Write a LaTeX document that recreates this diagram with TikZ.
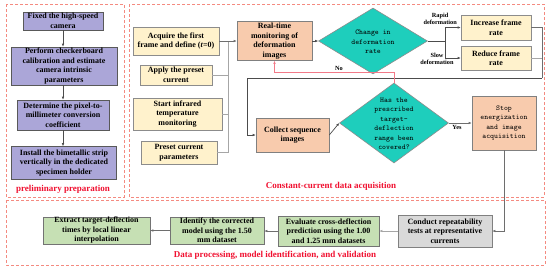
\documentclass[tikz,border=0pt]{standalone}
\usepackage{fontspec}
\setmainfont{Liberation Serif}
\usetikzlibrary{arrows.meta,shapes.geometric}
\definecolor{purp}{HTML}{ABA6D8}
\definecolor{yel}{HTML}{FFF2CC}
\definecolor{salm}{HTML}{F8CBAD}
\definecolor{teal2}{HTML}{1ECEBC}
\definecolor{grn}{HTML}{C6E0B4}
\definecolor{gry}{HTML}{D9D9D9}
\definecolor{dashred}{HTML}{F48A80}
\definecolor{lblred}{HTML}{F01030}
\definecolor{linegray}{HTML}{6E6E6E}
\definecolor{nopink}{HTML}{F27A88}
\tikzset{
  box/.style={draw=#1, line width=0.6pt, rectangle, inner sep=0pt, align=center,
    font=\fontsize{8}{9.5}\selectfont\bfseries},
  pbox/.style={box=black!65, fill=purp},
  ybox/.style={box=black!45, fill=yel},
  sbox/.style={box=black!50, fill=salm},
  gbox/.style={box=black!55, fill=grn},
  graybox/.style={box=black!50, fill=gry},
  mono/.style={font=\fontsize{7.4}{9.5}\selectfont\ttfamily, align=center, inner sep=0pt},
  dia/.style={draw=black!45, line width=0.6pt, fill=teal2, diamond, inner sep=0pt},
  conn/.style={draw=linegray, line width=0.7pt},
  lightconn/.style={draw=black!35, line width=0.7pt},
  darkconn/.style={draw=black!70, line width=0.7pt},
  tip/.style={-{Latex[length=3pt,width=2.6pt]}},
  arr/.style={conn, tip},
  grp/.style={draw=dashred, line width=1pt, dash pattern=on 3pt off 2pt},
  grplbl/.style={text=lblred, font=\fontsize{9}{10}\selectfont\bfseries, inner sep=0pt},
  small/.style={font=\fontsize{6.3}{7.3}\selectfont\bfseries, inner sep=0pt, align=center},
}
\begin{document}
\begin{tikzpicture}[x=1pt,y=-1pt]
\useasboundingbox (0,0) rectangle (550,269);
% groups
\draw[grp] (6,4) rectangle (124,197);
\draw[grp] (129,4) rectangle (544,197);
\draw[grp] (6,200) rectangle (545,265);
\node[grplbl] (lp) at (63,189) {preliminary preparation};
\node[grplbl] (lc) at (331,186) {Constant-current data acquisition};
\node[grplbl] (ld) at (275,255) {Data processing, model identification, and validation};
% preliminary
\node[pbox, minimum width=80pt, minimum height=18pt] (p1) at (63,21) {Fixed the high-speed\\camera};
\node[pbox, minimum width=106pt, minimum height=38pt] (p2) at (64,66) {Perform checkerboard\\calibration and estimate\\camera intrinsic\\parameters};
\node[pbox, minimum width=92pt, minimum height=30pt] (p3) at (63,115) {Determine the pixel-to-\\millimeter conversion\\coefficient};
\node[pbox, minimum width=105pt, minimum height=33pt] (p4) at (64,163) {Install the bimetallic strip\\vertically in the dedicated\\specimen holder};
\draw[darkconn, tip] (p1.south) -- (p1.south |- p2.north);
\draw[darkconn, tip] (p2.south -| p1.south) -- (p1.south |- p3.north);
\draw[darkconn, tip] (p3.south -| p1.south) -- (p1.south |- p4.north);
% constant current
\node[ybox, minimum width=86pt, minimum height=28pt] (a1) at (176,41) {Acquire the first\\frame and define (\textit{t}=0)};
\node[ybox, minimum width=72pt, minimum height=20pt] (a2) at (176,75) {Apply the preset\\current};
\node[ybox, minimum width=89pt, minimum height=32pt] (a3) at (177.5,114) {Start infrared\\temperature\\monitoring};
\node[ybox, minimum width=76pt, minimum height=23pt] (a4) at (179,152.5) {Preset current\\parameters};
\node[sbox, minimum width=75pt, minimum height=39pt] (rt) at (274.5,41) {Real-time\\monitoring of\\deformation\\images};
\coordinate (bus) at (228,41);
\draw[lightconn] (a2.east) -| (bus);
\draw[lightconn] (a3.east) -| (bus);
\draw[lightconn] (a4.east) -| (bus);
\draw[arr] (a1.east) -- (rt.west);
\node[dia, minimum width=109pt, minimum height=66pt] (d1) at (373,41) {};
\node[mono] (d1t) at (373,42) {Change in\\deformation\\rate};
\draw[darkconn, tip] (rt.east) -- (d1.west);
\node[ybox, minimum width=70pt, minimum height=25pt] (fr1) at (496,27.5) {Increase frame\\rate};
\node[ybox, minimum width=70pt, minimum height=24pt] (fr2) at (496,58) {Reduce frame\\rate};
\coordinate (br) at (445,41);
\draw[darkconn, tip] (d1.east) -- (br) |- (fr1.west);
\draw[darkconn, tip] (br) |- (fr2.west);
\node[small, anchor=south east] (rl) at (457,25) {Rapid\\deformation};
\node[small, anchor=north] (sl) at (437,53) {Slow\\deformation};
\node[sbox, minimum width=73pt, minimum height=34pt] (col) at (292.5,135) {Collect sequence\\images};
\coordinate (lpc) at (542,78);
\coordinate (lpl) at (247,78);
\draw[conn] (fr1.east) -| (lpc);
\draw[lightconn] (fr2.east) -- (fr2.east -| lpc);
\draw[darkconn, tip] (lpc) -- (lpl) |- (col.west);
\node[dia, minimum width=109pt, minimum height=80pt] (d2) at (394,123) {};
\node[mono] (d2t) at (394,124) {Has the\\prescribed\\target-\\deflection\\range been\\covered?};
\draw[darkconn, tip] (col.east) -- (d2.west);
\coordinate (no1) at (274.5,72);
\draw[draw=nopink, line width=0.7pt, tip] (d2.north) |- (no1) -- (rt.south);
\node[small] (nol) at (339,68.5) {No};
\node[sbox, font=\fontsize{7.4}{9.5}\selectfont\ttfamily, minimum width=64pt, minimum height=54pt] (stop) at (504,123) {Stop\\energization\\and image\\acquisition};
\draw[arr] (d2.east) -- (stop.west);
\node[small] (yl) at (457,127.5) {Yes};
% bottom
\node[graybox, minimum width=94pt, minimum height=32pt] (rep) at (445,231) {Conduct repeatability\\tests at representative\\currents};
\node[gbox, minimum width=101pt, minimum height=30pt] (ev) at (328.5,231) {Evaluate cross-deflection\\prediction using the 1.00\\and 1.25 mm datasets};
\node[gbox, minimum width=94pt, minimum height=27pt] (id) at (217,230.5) {Identify the corrected\\model using the 1.50\\mm dataset};
\node[gbox, minimum width=107pt, minimum height=27pt] (ex) at (96.5,230.5) {Extract target-deflection\\times by local linear\\interpolation};
\draw[arr] (stop.south) |- (rep.east);
\draw[lightconn, tip] (rep.west) -- (ev.east);
\draw[arr] (ev.west) -- (ev.west -| id.east);
\draw[arr] (id.west) -- (id.west -| ex.east);
\end{tikzpicture}
\end{document}
